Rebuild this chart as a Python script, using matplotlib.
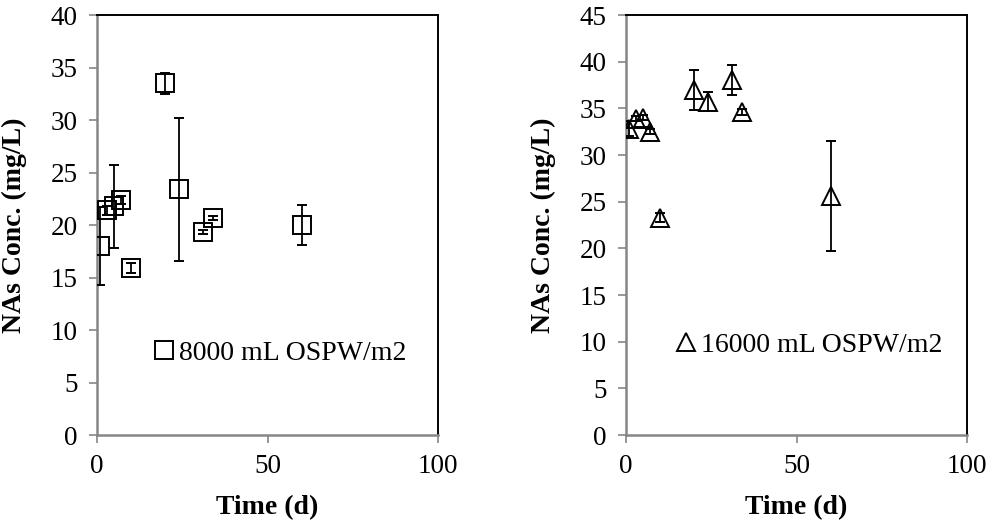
import matplotlib
matplotlib.use('Agg')
import matplotlib.pyplot as plt

# 8000 mL OSPW/m2 series
time_8000 = [1, 3, 5, 7, 10, 20, 24, 31, 34, 60]
conc_8000 = [18.0, 21.4, 21.8, 22.4, 15.9, 33.5, 23.4, 19.3, 20.7, 20.0]
err_8000 = [3.7, 0.4, 3.95, 0.4, 0.5, 1.0, 6.8, 0.2, 0.2, 1.9]

# 16000 mL OSPW/m2 series
time_16000 = [1, 3, 5, 7, 10, 20, 24, 31, 34, 60]
conc_16000 = [32.8, 33.9, 34.0, 32.5, 23.3, 37.0, 35.7, 38.0, 34.6, 25.6]
err_16000 = [0.8, 0.3, 0.3, 0.3, 0.5, 2.15, 1.0, 1.6, 0.3, 5.9]

xticks = [0, 50, 100]
yticks_left = list(range(0, 45, 5))
yticks_right = list(range(0, 50, 5))

plt.rcParams['font.family'] = ['Liberation Serif', 'DejaVu Serif']

GREY = '#868686'


def style_axes(ax, yticks):
    ax.set_xlim(0, 100)
    ax.set_ylim(yticks[0], yticks[-1])
    ax.set_xticks(xticks)
    ax.set_yticks(yticks)
    for side in ['left', 'bottom']:
        ax.spines[side].set_color(GREY)
        ax.spines[side].set_linewidth(1.8)
    for side in ['top', 'right']:
        ax.spines[side].set_color('black')
        ax.spines[side].set_linewidth(1.4)
    ax.tick_params(axis='both', direction='out', length=6, width=1.2, color=GREY,
                   labelsize=19.5, pad=8)
    ax.set_xlabel('Time (d)', fontsize=20, fontweight='bold')
    ax.set_ylabel('NAs Conc. (mg/L)', fontsize=20, fontweight='bold')
    ax.xaxis.set_label_coords(0.5, -0.143)
    ax.yaxis.set_label_coords(-0.205, 0.5)


def plot_series(ax, x, y, err, marker):
    eb = ax.errorbar(x, y, yerr=err, fmt=marker, ms=13.5, mfc='none', mec='black',
                     mew=1.4, ecolor='black', elinewidth=1.3, capsize=3.5,
                     capthick=1.3, zorder=3)
    return eb[0]


fig = plt.figure(figsize=(9.91, 5.25), dpi=100)
ax1 = fig.add_axes([0.0979, 0.1714, 0.3441, 0.8])
ax2 = fig.add_axes([0.6317, 0.1714, 0.3441, 0.8])

h1 = plot_series(ax1, time_8000, conc_8000, err_8000, 's')
style_axes(ax1, yticks_left)
ax1.legend([h1], ['8000 mL OSPW/m2'], frameon=False, fontsize=20,
           loc='center left', bbox_to_anchor=(0.17, 0.195),
           handlelength=0.65, handletextpad=0.2, markerscale=0.95,
           borderpad=0, borderaxespad=0)

h2 = plot_series(ax2, time_16000, conc_16000, err_16000, '^')
style_axes(ax2, yticks_right)
ax2.legend([h2], ['16000 mL OSPW/m2'], frameon=False, fontsize=20,
           loc='center left', bbox_to_anchor=(0.15, 0.214),
           handlelength=0.65, handletextpad=0.2, markerscale=0.95,
           borderpad=0, borderaxespad=0)

plt.savefig('out.png', dpi=100)
